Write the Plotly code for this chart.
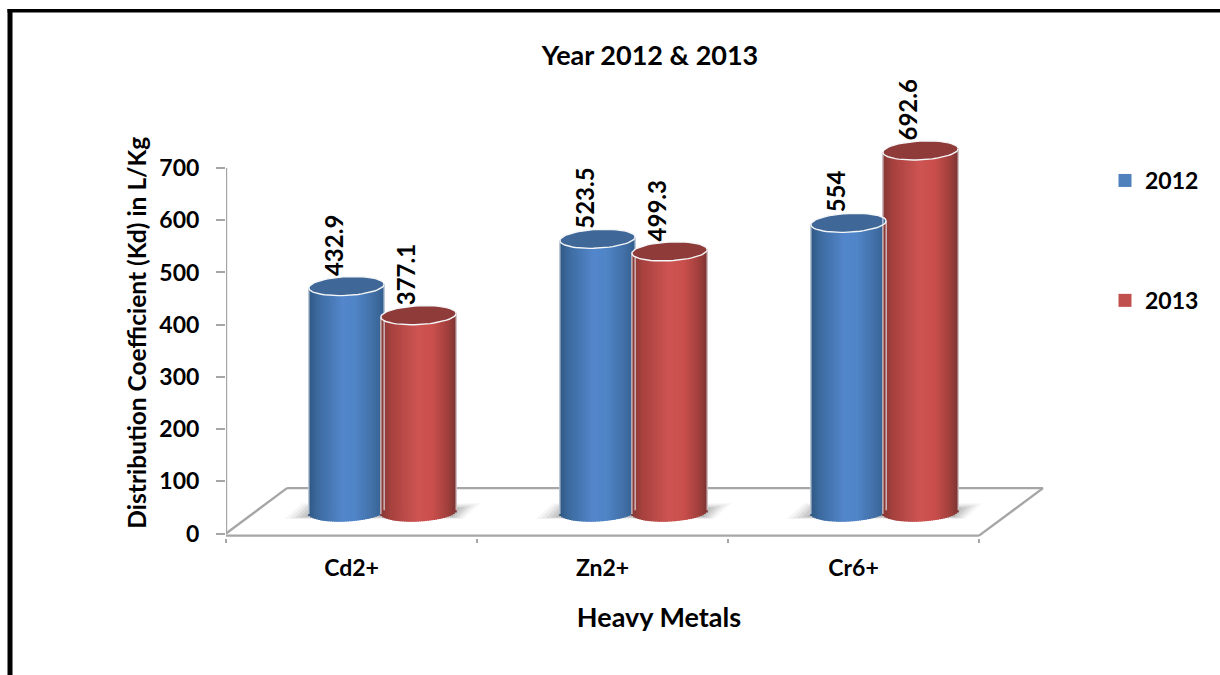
import math
import plotly.graph_objects as go

# Chart data
metals = ["Cd2+", "Zn2+", "Cr6+"]
kd_2012 = [432.9, 523.5, 554]
kd_2013 = [377.1, 499.3, 692.6]
kd_labels_2012 = ["432.9", "523.5", "554"]
kd_labels_2013 = ["377.1", "499.3", "692.6"]
y_ticks = [0, 100, 200, 300, 400, 500, 600, 700]

FONT = "Lato"
AXIS_GREY = "#a6a6a6"
W, H = 1220, 675

# Page geometry of the plotting area, and its data ranges
LEFT, RIGHT, BOTTOM, TOP = 226, 1092, 537.7, 127.7
X_RANGE = [-0.5, 2.95]
Y_RANGE = [-8, 777.2]
FRONT_RIGHT = 2.5        # where the front edge of the floor ends
FLOOR_BACK_LEFT = -0.257
FLOOR_BACK_RIGHT = 2.755
FLOOR_BACK_Y = 87
FLOOR_FRONT_Y = -4

# Cylinder geometry, in axis units
BASE = 41                # height of the cylinder foot above the zero line
CYL_W = 0.30
RY = 18
TILT = 3.5
OFFSET_2012, OFFSET_2013 = -0.02, 0.267
N_STRIPS = 38

BLUE_STOPS = [(0, "#2f5680"), (0.12, "#3c6a9e"), (0.45, "#5386cb"), (0.62, "#5085c8"),
              (0.86, "#426fa6"), (1, "#34608f")]
RED_STOPS = [(0, "#843835"), (0.15, "#a8423f"), (0.5, "#cd5452"), (0.7, "#c94f4c"),
             (0.9, "#a03f3c"), (1, "#7e3533")]
BLUE_CAP, RED_CAP = "#3f6898", "#8f3b39"
BLUE_KEY, RED_KEY = "#4f81bd", "#c0504d"


def shade(stops, t):
    for (t0, c0), (t1, c1) in zip(stops, stops[1:]):
        if t <= t1:
            f = (t - t0) / (t1 - t0)
            rgb = [round(int(c0[i:i + 2], 16) * (1 - f) + int(c1[i:i + 2], 16) * f) for i in (1, 3, 5)]
            return f"rgb({rgb[0]},{rgb[1]},{rgb[2]})"
    return stops[-1][1]


def cylinder_body(values, offset, stops, name):
    """One shaded vertical strip per step across each cylinder, with a rounded foot."""
    xs, tops, bases, colors = [], [], [], []
    step = CYL_W / N_STRIPS
    for i, v in enumerate(values):
        for s in range(N_STRIPS):
            t = (s + 0.5) / N_STRIPS
            u = 2 * t - 1
            foot = BASE - RY * math.sqrt(1 - u * u) + TILT * u
            xs.append(i + offset - CYL_W / 2 + (s + 0.5) * step)
            bases.append(foot)
            tops.append(v + BASE + TILT * u - foot)
            colors.append(shade(stops, t))
    return go.Bar(x=xs, y=tops, base=bases, width=step * 1.6, marker=dict(color=colors, line_width=0),
                  name=name, showlegend=False, hoverinfo="skip", cliponaxis=False)


def cylinder_caps(values, offset, color):
    xs, ys = [], []
    for i, v in enumerate(values):
        for k in range(61):
            a = 2 * math.pi * k / 60
            xs.append(i + offset + CYL_W / 2 * math.cos(a))
            ys.append(v + BASE + RY * math.sin(a) + TILT * math.cos(a))
        xs.append(None)
        ys.append(None)
    return go.Scatter(x=xs, y=ys, mode="lines", fill="toself", fillcolor=color,
                      line=dict(color="#f4f6f8", width=1.4), showlegend=False,
                      hoverinfo="skip", cliponaxis=False)


def cylinder_sides(values, offset):
    xs, ys = [], []
    for i, v in enumerate(values):
        for side in (-1, 1):
            xs += [i + offset + side * CYL_W / 2] * 2 + [None]
            ys += [v + BASE + side * TILT, BASE + side * TILT, None]
    return go.Scatter(x=xs, y=ys, mode="lines", line=dict(color="rgba(235,238,242,0.85)", width=1.2),
                      showlegend=False, hoverinfo="skip", cliponaxis=False)


def grey_line(xs, ys):
    return go.Scatter(x=xs, y=ys, mode="lines", line=dict(color=AXIS_GREY, width=2.4),
                      showlegend=False, hoverinfo="skip", cliponaxis=False)


fig = go.Figure()

# Cylinders: the 2013 series sits in front of 2012
fig.add_trace(cylinder_body(kd_2012, OFFSET_2012, BLUE_STOPS, "2012"))
fig.add_trace(cylinder_body(kd_2013, OFFSET_2013, RED_STOPS, "2013"))
fig.add_trace(cylinder_caps(kd_2012, OFFSET_2012, BLUE_CAP))
fig.add_trace(cylinder_sides(kd_2012, OFFSET_2012))
fig.add_trace(cylinder_sides(kd_2013, OFFSET_2013))
fig.add_trace(cylinder_caps(kd_2013, OFFSET_2013, RED_CAP))

# Axis lines and the visible front and side edges of the floor
fig.add_trace(grey_line([-0.5, -0.5], [0, y_ticks[-1]]))
fig.add_trace(grey_line([-0.5, FRONT_RIGHT], [FLOOR_FRONT_Y, FLOOR_FRONT_Y]))
fig.add_trace(grey_line([-0.5, FLOOR_BACK_LEFT], [0, FLOOR_BACK_Y]))
fig.add_trace(grey_line([FRONT_RIGHT, FLOOR_BACK_RIGHT], [FLOOR_FRONT_Y, FLOOR_BACK_Y]))

# Legend keys
for name, color in (("2012", BLUE_KEY), ("2013", RED_KEY)):
    fig.add_trace(go.Scatter(x=[None], y=[None], mode="markers", name=name, legendgroup=name,
                             marker=dict(symbol="square", size=13, color=color)))

# Back edge of the floor passes behind the cylinders
shapes = [dict(type="line", xref="x", yref="y", layer="below", x0=FLOOR_BACK_LEFT, x1=FLOOR_BACK_RIGHT,
               y0=FLOOR_BACK_Y, y1=FLOOR_BACK_Y, line=dict(color=AXIS_GREY, width=2.4))]

# Soft contact shadows on the floor, built up from faint nested layers
for i in range(len(metals)):
    cx = i + (OFFSET_2012 + OFFSET_2013) / 2
    for grow, alpha in ((1.0, 0.05), (0.85, 0.07), (0.7, 0.09), (0.55, 0.11), (0.4, 0.13)):
        half = 0.355 * (0.72 + 0.28 * grow)
        skew = 0.035 * grow
        low, high = 34 - 6 * grow, 42 + 16 * grow
        path = (f"M {cx - half - skew:.4f} {low} L {cx - half + skew:.4f} {high} "
                f"L {cx + half + skew:.4f} {high} L {cx + half - skew:.4f} {low} Z")
        shapes.append(dict(type="path", xref="x", yref="y", layer="below", path=path,
                           fillcolor=f"rgba(80,80,80,{alpha})", line_width=0))

# Black frame along the top and left of the page
shapes.append(dict(type="rect", xref="paper", yref="paper", x0=7.5 / W, x1=12.5 / W, y0=0, y1=1 - 9 / H,
                   fillcolor="black", line_width=0))
shapes.append(dict(type="rect", xref="paper", yref="paper", x0=7.5 / W, x1=1, y0=1 - 12.5 / H, y1=1 - 9 / H,
                   fillcolor="black", line_width=0))

# Rotated value labels above each cylinder
annotations = []
for offset, values, labels in ((OFFSET_2012, kd_2012, kd_labels_2012), (OFFSET_2013, kd_2013, kd_labels_2013)):
    for i, (v, label) in enumerate(zip(values, labels)):
        annotations.append(dict(x=i + offset, y=v + BASE, text=f"<b>{label}</b>", textangle=-90, showarrow=False,
                                xanchor="center", yanchor="bottom", xshift=-13, yshift=8,
                                font=dict(family=FONT, size=24, color="black")))

fig.update_layout(
    width=W, height=H, autosize=False,
    margin=dict(l=0, r=0, t=0, b=0, autoexpand=False),
    paper_bgcolor="white", plot_bgcolor="rgba(0,0,0,0)",
    barmode="overlay",
    font=dict(family=FONT, color="black"),
    title=dict(text="<b>Year 2012 &amp; 2013</b>", x=650 / W, xanchor="center", y=1 - 56 / H, yanchor="middle",
               font=dict(family=FONT, size=27, color="black")),
    legend=dict(x=1111 / W, xanchor="left", y=1 - 159 / H, yanchor="top", tracegroupgap=87, indentation=-6,
                bgcolor="rgba(0,0,0,0)", font=dict(family=FONT, size=23, color="black", weight="bold")),
    shapes=shapes,
    annotations=annotations,
    xaxis=dict(
        domain=[LEFT / W, RIGHT / W], range=X_RANGE, showgrid=False, zeroline=False, showline=False,
        tickmode="array", tickvals=[0, 1, 2], ticktext=metals, ticks="", ticklabelstandoff=14,
        tickfont=dict(family=FONT, size=23, color="black", weight="bold"),
        minor=dict(tickmode="array", tickvals=[-0.5, 0.5, 1.5, 2.5], ticks="outside", ticklen=4,
                   tickwidth=2, tickcolor=AXIS_GREY, showgrid=False),
        title=dict(text="<b>Heavy Metals</b>", standoff=28, font=dict(family=FONT, size=27, color="black")),
    ),
    yaxis=dict(
        domain=[1 - BOTTOM / H, 1 - TOP / H], range=Y_RANGE, showgrid=False, zeroline=False, showline=False,
        tickmode="array", tickvals=y_ticks, ticks="outside", ticklen=9, tickwidth=2, tickcolor=AXIS_GREY,
        ticklabelstandoff=12, tickfont=dict(family=FONT, size=23, color="black", weight="bold"),
        title=dict(text="<b>Distribution Coefficient (Kd) in L/Kg</b>", standoff=5,
                   font=dict(family=FONT, size=24.5, color="black")),
    ),
)

fig.write_html("out.html")
